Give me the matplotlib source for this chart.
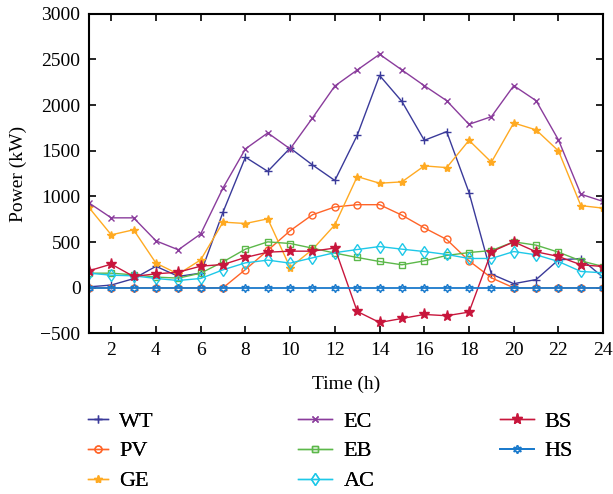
import matplotlib
matplotlib.use('Agg')
from matplotlib import pyplot as plt

plt.rcParams['font.family'] = ['Liberation Serif', 'DejaVu Serif']

hours = list(range(1, 25))

wt = [10, 30, 100, 235, 125, 160, 830, 1430, 1275, 1530, 1345, 1175, 1670, 2325, 2040, 1615, 1710, 1043, 150, 45, 90, 306, 320, 113]
pv = [0, 0, 0, 0, 0, 0, 0, 200, 410, 625, 800, 885, 910, 910, 795, 656, 529, 295, 109, 0, 0, 0, 0, 0]
ge = [880, 580, 635, 270, 150, 306, 719, 704, 755, 222, 420, 689, 1218, 1145, 1160, 1335, 1316, 1615, 1375, 1805, 1729, 1499, 900, 872]
ec = [930, 766, 766, 514, 416, 590, 1094, 1521, 1696, 1521, 1860, 2210, 2385, 2557, 2385, 2213, 2049, 1790, 1874, 2213, 2049, 1619, 1025, 945]
eb = [160, 160, 142, 117, 106, 160, 284, 423, 503, 485, 434, 380, 332, 288, 252, 295, 354, 386, 408, 503, 467, 390, 295, 233]
ac = [160, 138, 131, 102, 80, 102, 197, 273, 303, 270, 328, 385, 419, 452, 423, 397, 365, 321, 321, 397, 361, 288, 179, 164]
bs = [186, 259, 124, 153, 171, 237, 255, 332, 390, 401, 401, 435, -259, -380, -336, -292, -306, -266, 394, 503, 394, 343, 252, 233]
hs = [0] * 24

fig = plt.figure(figsize=(6.13, 4.94), dpi=100)
ax = fig.add_axes([0.145, 0.325, 0.839, 0.647])

h_wt, = ax.plot(hours, wt, color='#3a3a9a', marker='+', ms=6, lw=1.0, label='WT')
h_pv, = ax.plot(hours, pv, color='#ff6428', marker='o', ms=5, mfc='none', lw=1.0, label='PV')
h_ge, = ax.plot(hours, ge, color='#ffaa22', marker='*', ms=6, lw=1.0, label='GE')
h_ec, = ax.plot(hours, ec, color='#8a3c9c', marker='x', ms=4, lw=1.0, label='EC')
h_eb, = ax.plot(hours, eb, color='#5cb84a', marker='s', ms=4.5, mfc='none', lw=1.0, label='EB')
h_ac, = ax.plot(hours, ac, color='#1ec8e8', marker='d', ms=6, mfc='none', lw=1.0, label='AC')
h_bs, = ax.plot(hours, bs, color='#c8163c', marker='*', ms=8, lw=1.0, label='BS')
h_hs, = ax.plot(hours, hs, color='#1a7acc', marker=(6, 1, 0), ms=6, mfc='none', lw=1.3, label='HS')

ax.set_xlim(1, 24)
ax.set_ylim(-500, 3000)
ax.set_xticks(range(2, 25, 2))
ax.set_yticks(range(-500, 3001, 500))
ax.tick_params(direction='in', top=True, right=True, labelsize=14, length=5, width=1.2, pad=6)
for s in ax.spines.values():
    s.set_linewidth(1.5)
ax.set_xlabel('Time (h)', fontsize=14, labelpad=12)
ax.set_ylabel('Power (kW)', fontsize=14, labelpad=10)

# three legend columns placed separately
cols = [([h_wt, h_pv, h_ge], 0.1436, 0.9),
        ([h_ec, h_eb, h_ac], 0.486, 1.55),
        ([h_bs, h_hs], 0.816, 1.5)]
for handles, x0, hl in cols:
    leg = fig.legend(handles=handles, loc='upper left', bbox_to_anchor=(x0, 0.168),
                     frameon=False, fontsize=16, borderpad=0, borderaxespad=0,
                     handlelength=hl, handletextpad=0.5, labelspacing=0.42)
    fig.add_artist(leg)

plt.savefig('out.png', dpi=100)
